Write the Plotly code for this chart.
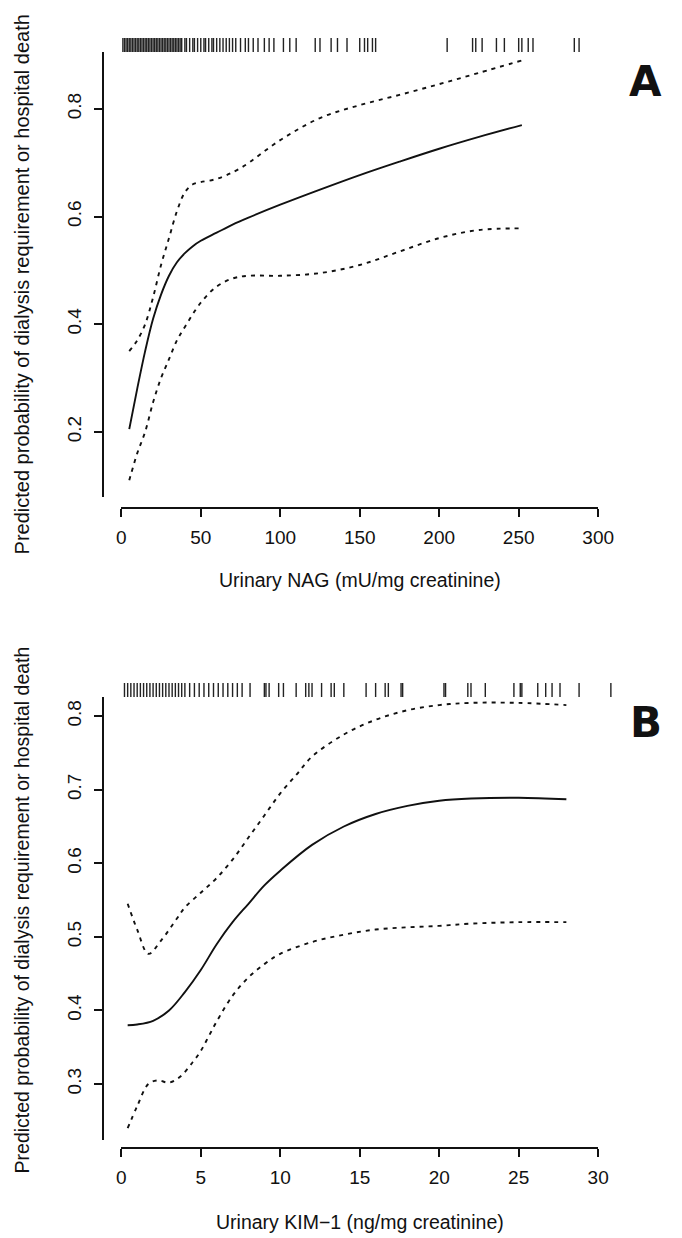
import plotly.graph_objects as go

W, H = 682, 1238

# ---------------- Panel A data (Urinary NAG) ----------------
nag_x = [5, 10, 15, 20, 25, 30, 35, 40, 45, 50, 60, 70, 80, 100, 125, 150, 175, 200, 225, 252]
nag_fit = [0.205, 0.28, 0.35, 0.41, 0.455, 0.49, 0.515, 0.532, 0.545, 0.555, 0.57, 0.585,
           0.598, 0.622, 0.65, 0.677, 0.702, 0.726, 0.748, 0.77]
nag_up_x = [5, 10, 15, 20, 25, 30, 35, 40, 45, 50, 60, 75, 100, 125, 150, 175, 200, 225, 252]
nag_up = [0.35, 0.37, 0.40, 0.45, 0.51, 0.56, 0.61, 0.645, 0.66, 0.664, 0.67, 0.69, 0.742,
          0.783, 0.807, 0.826, 0.846, 0.867, 0.89]
nag_lo_x = [5, 10, 15, 20, 25, 30, 35, 40, 50, 60, 70, 80, 100, 125, 150, 175, 200, 225, 252]
nag_lo = [0.11, 0.16, 0.20, 0.255, 0.30, 0.335, 0.37, 0.395, 0.44, 0.47, 0.485, 0.49, 0.49,
          0.495, 0.51, 0.535, 0.56, 0.575, 0.578]
nag_rug = [1, 2, 3, 4, 5, 6, 7, 8, 9, 10, 11, 12, 13, 14, 15, 16, 17, 18, 19, 20, 21, 22, 23,
           24, 25, 26, 27, 28, 29, 30, 31, 32, 33, 34, 35, 36, 37, 38, 40, 41, 43, 45, 46, 48,
           50, 52, 53, 55, 57, 58, 60, 62, 64, 66, 68, 70, 72, 75, 78, 80, 83, 86, 90, 93, 96,
           102, 106, 110, 122, 125, 132, 136, 142, 150, 153, 155, 158, 160, 205, 221, 223, 227,
           236, 241, 250, 252, 256, 259, 285, 288]

# ---------------- Panel B data (Urinary KIM-1) ----------------
kim_x = [0.4, 1, 2, 3, 4, 5, 6, 7, 8, 9, 10, 12, 14, 16, 18, 20, 22, 25, 28]
kim_fit = [0.38, 0.381, 0.386, 0.40, 0.425, 0.455, 0.49, 0.52, 0.545, 0.57, 0.59, 0.625,
           0.65, 0.667, 0.678, 0.685, 0.688, 0.689, 0.687]
kim_up_x = [0.4, 1, 1.7, 2.5, 3.5, 4, 5, 6, 7, 8, 9, 10, 11, 12, 14, 16, 18, 20, 22, 25, 28]
kim_up = [0.545, 0.51, 0.477, 0.495, 0.525, 0.54, 0.56, 0.58, 0.605, 0.635, 0.665, 0.695,
          0.72, 0.745, 0.775, 0.795, 0.808, 0.815, 0.818, 0.818, 0.815]
kim_lo_x = [0.4, 1, 1.7, 2.3, 3, 3.7, 4.5, 5, 5.5, 6, 7, 8, 9, 10, 12, 14, 16, 18, 20, 22, 25, 28]
kim_lo = [0.24, 0.27, 0.30, 0.305, 0.302, 0.31, 0.33, 0.345, 0.365, 0.385, 0.42, 0.445, 0.463,
          0.477, 0.493, 0.503, 0.51, 0.513, 0.515, 0.518, 0.52, 0.52]
kim_rug = [0.2, 0.4, 0.6, 0.8, 1.0, 1.2, 1.4, 1.6, 1.8, 2.0, 2.2, 2.4, 2.6, 2.8, 3.0, 3.2, 3.4,
           3.6, 3.8, 4.0, 4.3, 4.6, 4.9, 5.2, 5.5, 5.8, 6.1, 6.4, 6.7, 7.0, 7.3, 7.6, 8.1, 9.0,
           9.1, 9.3, 9.9, 10.2, 11.0, 11.6, 11.8, 12.0, 12.6, 13.2, 13.4, 14.0, 15.4, 16.0,
           16.6, 16.8, 17.6, 17.7, 20.3, 20.4, 21.8, 22.0, 22.9, 24.7, 25.1, 25.2, 26.2, 26.7,
           27.1, 27.6, 28.8, 30.8]

x_ticks_a = [0, 50, 100, 150, 200, 250, 300]
y_ticks_a = [0.2, 0.4, 0.6, 0.8]
x_ticks_b = [0, 5, 10, 15, 20, 25, 30]
y_ticks_b = [0.3, 0.4, 0.5, 0.6, 0.7, 0.8]

y_title = "Predicted probability of dialysis requirement or hospital death"
x_title_a = "Urinary NAG (mU/mg creatinine)"
x_title_b = "Urinary KIM\u22121 (ng/mg creatinine)"

INK = "#111111"
FONT = "Liberation Sans, Arial, Helvetica, sans-serif"


def px_x(p):
    return p / W


def px_y(p):
    return 1 - p / H


# pixel geometry
X0_PX, X1_PX = 120, 612            # x-axis tick span (both panels)
RUG_X0_PX, RUG_X1_PX = 100, 645    # rug strip width


def rug_range(lo, hi):
    ppu = (X1_PX - X0_PX) / (hi - lo)
    return [lo + (RUG_X0_PX - X0_PX) / ppu, lo + (RUG_X1_PX - X0_PX) / ppu]


fig = go.Figure()

ya_range = [0.079, 0.928]
yb_range = [0.224, 0.845]

dash_style = dict(color=INK, width=1.9, dash="4px,5px", shape="spline")
solid_style = dict(color=INK, width=1.9, shape="spline")

# --- panel A traces
fig.add_trace(go.Scatter(x=nag_x, y=nag_fit, mode="lines", line=solid_style,
                         xaxis="x", yaxis="y", showlegend=False))
fig.add_trace(go.Scatter(x=nag_up_x, y=nag_up, mode="lines", line=dash_style,
                         xaxis="x", yaxis="y", showlegend=False))
fig.add_trace(go.Scatter(x=nag_lo_x, y=nag_lo, mode="lines", line=dash_style,
                         xaxis="x", yaxis="y", showlegend=False))
fig.add_trace(go.Scatter(x=nag_rug, y=[0.5] * len(nag_rug), mode="markers",
                         marker=dict(symbol="line-ns", size=10, line=dict(color="#222222", width=1.4)),
                         xaxis="x3", yaxis="y3", showlegend=False))

# --- panel B traces
fig.add_trace(go.Scatter(x=kim_x, y=kim_fit, mode="lines", line=solid_style,
                         xaxis="x2", yaxis="y2", showlegend=False))
fig.add_trace(go.Scatter(x=kim_up_x, y=kim_up, mode="lines", line=dash_style,
                         xaxis="x2", yaxis="y2", showlegend=False))
fig.add_trace(go.Scatter(x=kim_lo_x, y=kim_lo, mode="lines", line=dash_style,
                         xaxis="x2", yaxis="y2", showlegend=False))
fig.add_trace(go.Scatter(x=kim_rug, y=[0.5] * len(kim_rug), mode="markers",
                         marker=dict(symbol="line-ns", size=10, line=dict(color="#222222", width=1.4)),
                         xaxis="x4", yaxis="y4", showlegend=False))

axis_common = dict(showgrid=False, zeroline=False, showline=True, linecolor=INK, linewidth=2,
                   ticks="outside", ticklen=8, tickwidth=2, tickcolor=INK,
                   tickfont=dict(family=FONT, size=19, color=INK))
hidden = dict(visible=False, showgrid=False, zeroline=False, fixedrange=True)

fig.update_layout(
    width=W, height=H,
    margin=dict(l=0, r=0, t=0, b=0),
    paper_bgcolor="white", plot_bgcolor="white",
    showlegend=False,
    xaxis=dict(domain=[px_x(X0_PX), px_x(X1_PX)], range=[0, 300], tickvals=x_ticks_a,
               anchor="free", position=px_y(508), ticklabelstandoff=4, **axis_common),
    yaxis=dict(domain=[px_y(497), px_y(40)], range=ya_range, tickvals=y_ticks_a,
               anchor="free", position=px_x(101), tickangle=-90, ticklabelstandoff=5,
               **axis_common),
    xaxis2=dict(domain=[px_x(X0_PX), px_x(X1_PX)], range=[0, 30], tickvals=x_ticks_b,
                anchor="free", position=px_y(1148), ticklabelstandoff=4, **axis_common),
    yaxis2=dict(domain=[px_y(1140), px_y(683)], range=yb_range, tickvals=y_ticks_b,
                anchor="free", position=px_x(101), tickangle=-90, ticklabelstandoff=5,
                **axis_common),
    xaxis3=dict(domain=[px_x(RUG_X0_PX), px_x(RUG_X1_PX)], range=rug_range(0, 300),
                anchor="y3", **hidden),
    yaxis3=dict(domain=[px_y(52), px_y(38)], range=[0, 1], anchor="x3", **hidden),
    xaxis4=dict(domain=[px_x(RUG_X0_PX), px_x(RUG_X1_PX)], range=rug_range(0, 30),
                anchor="y4", **hidden),
    yaxis4=dict(domain=[px_y(697), px_y(683)], range=[0, 1], anchor="x4", **hidden),
)

ann_font_a = dict(family=FONT, size=20, color=INK)
ann_font_b = dict(family=FONT, size=19.5, color=INK)
annotations = [
    dict(text=y_title, x=px_x(18), y=px_y(284), textangle=-90, font=ann_font_a),
    dict(text=y_title, x=px_x(18), y=px_y(910), textangle=-90, font=ann_font_b),
    dict(text=x_title_a, x=px_x(366), y=px_y(580), font=ann_font_b),
    dict(text=x_title_b, x=px_x(366), y=px_y(1222), font=ann_font_b),
    dict(text="<b>A</b>", x=px_x(661), y=px_y(82),
         font=dict(family="DejaVu Sans, Liberation Sans, Arial", size=42, color=INK)),
    dict(text="<b>B</b>", x=px_x(661), y=px_y(722),
         font=dict(family="DejaVu Sans, Liberation Sans, Arial", size=42, color=INK)),
]
for a in annotations:
    a.update(xref="paper", yref="paper", showarrow=False, xanchor="center", yanchor="middle")
fig.update_layout(annotations=annotations)

fig.write_html("out.html")
